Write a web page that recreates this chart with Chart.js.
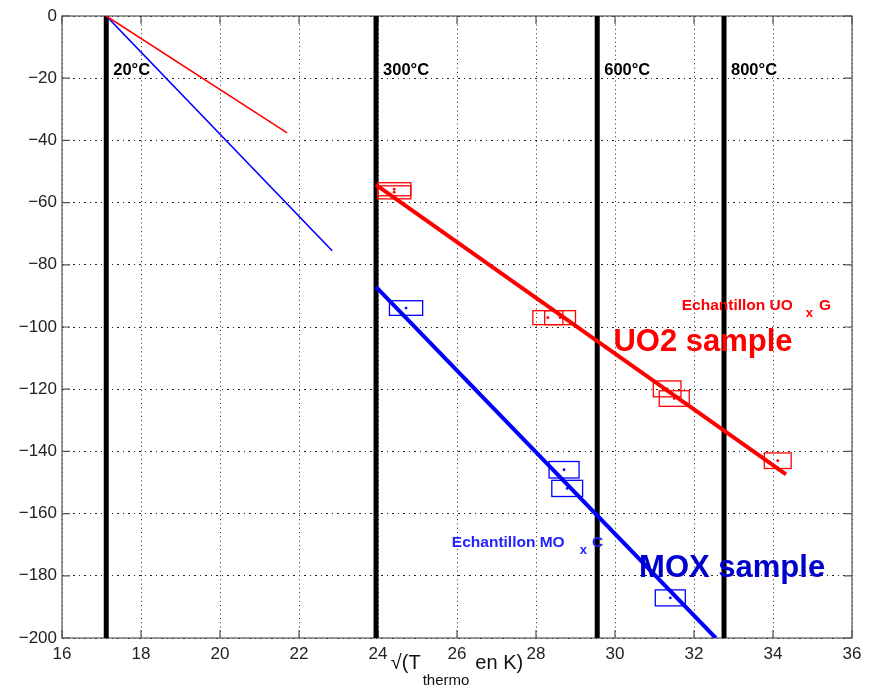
<!DOCTYPE html>
<html>
<head>
<meta charset="utf-8">
<script src="https://cdn.jsdelivr.net/npm/chart.js@4.4.0/dist/chart.umd.min.js"></script>
<style>
  body { margin: 0; background: #fff; }
  #wrap { width: 875px; height: 688px; }
</style>
</head>
<body>
<div id="wrap"><canvas id="arrhenius"></canvas></div>
<script>
// axis
const xMin = 16, xMax = 36, yMin = -200, yMax = 0;
const xTicks = [16, 18, 20, 22, 24, 26, 28, 30, 32, 34, 36];
const yTicks = [0, -20, -40, -60, -80, -100, -120, -140, -160, -180, -200];

// temperature markers, sqrt(T in K)
const tempX = [17.12, 23.95, 29.55, 32.76];
const tempLabels = ['20°C', '300°C', '600°C', '800°C'];

// UOx G measurements : box centres and half sizes
const uoxX = [24.41, 24.41, 28.30, 28.61, 31.32, 31.50, 34.12];
const uoxY = [-55.7, -56.7, -97.0, -97.0, -119.9, -123.0, -143.0];
const uoxErrX = [0.42, 0.42, 0.38, 0.39, 0.35, 0.38, 0.34];
const uoxErrY = [2.1, 2.1, 2.25, 2.25, 2.55, 2.5, 2.5];

// MOx C measurements
const moxX = [24.71, 28.71, 28.79, 31.40];
const moxY = [-93.9, -145.9, -151.9, -187.1];
const moxErrX = [0.42, 0.38, 0.39, 0.38];
const moxErrY = [2.35, 2.65, 2.6, 2.57];

// fitted lines above 300°C
const uoxFitX = [23.95, 34.33];
const uoxFitY = [-54.3, -147.4];
const moxFitX = [23.95, 32.55];
const moxFitY = [-87.1, -200];

// lines from 20°C
const uoxLowX = [17.12, 21.70];
const uoxLowY = [0, -37.6];
const moxLowX = [17.12, 22.84];
const moxLowY = [0, -75.5];

const RED = '#ff0000', BLUE = '#0000ff';
const FONT = '"Liberation Sans", Arial, sans-serif';

const pts = (xs, ys) => xs.map((v, i) => ({x: v, y: ys[i]}));
const line = (xs, ys, color, width) => ({
  data: pts(xs, ys), showLine: true, borderColor: color, borderWidth: width,
  pointRadius: 0, fill: false
});

// free text on the plot (data coordinates, baseline)
const notes = [
  {x: 29.96, y: -107.8, color: RED, parts: [['UO2 sample', 0, 0, 'bold 31px']]},
  {x: 30.61, y: -180.3, color: '#0000cc', parts: [['MOX sample', 0, 0, 'bold 31px']]},
  {x: 31.69, y: -94.4, color: RED, parts: [['Echantillon UO', 0, 0, 'bold 15.5px'], ['x', 13, 7, 'bold 13px'], ['G', 6, 0, 'bold 15.5px']]},
  {x: 25.87, y: -170.8, color: '#2222ff', parts: [['Echantillon MO', 0, 0, 'bold 15.5px'], ['x', 15, 7, 'bold 13px'], ['C', 5, 0, 'bold 15.5px']]}
];

const drawParts = (ctx, x0, y0, parts) => {
  let cx = x0;
  parts.forEach(([t, dx, dy, f]) => {
    ctx.font = f + ' ' + FONT;
    cx += dx;
    ctx.fillText(t, cx, y0 + dy);
    cx += ctx.measureText(t).width;
  });
};

const decorPlugin = {
  id: 'decor',
  beforeDatasetsDraw(chart) {
    const {ctx, chartArea: a, scales: {x, y}} = chart;
    ctx.save();
    ctx.strokeStyle = '#555';
    ctx.lineWidth = 1.2;
    ctx.setLineDash([]);
    ctx.strokeRect(a.left, a.top, a.right - a.left, a.bottom - a.top);
    ctx.beginPath();
    xTicks.forEach(v => {
      const px = x.getPixelForValue(v);
      ctx.moveTo(px, a.bottom); ctx.lineTo(px, a.bottom - 8);
      ctx.moveTo(px, a.top); ctx.lineTo(px, a.top + 8);
    });
    yTicks.forEach(v => {
      const py = y.getPixelForValue(v);
      ctx.moveTo(a.left, py); ctx.lineTo(a.left + 8, py);
      ctx.moveTo(a.right, py); ctx.lineTo(a.right - 8, py);
    });
    ctx.stroke();
    ctx.restore();
  },
  afterDatasetsDraw(chart) {
    const {ctx, chartArea: a, scales: {x, y}} = chart;
    ctx.save();
    // error boxes
    ctx.lineWidth = 1.3;
    const boxes = (xs, ys, ex, ey, color) => {
      ctx.strokeStyle = color;
      xs.forEach((v, i) => {
        const l = x.getPixelForValue(v - ex[i]), r = x.getPixelForValue(v + ex[i]);
        const t = y.getPixelForValue(ys[i] + ey[i]), b = y.getPixelForValue(ys[i] - ey[i]);
        ctx.strokeRect(l, t, r - l, b - t);
      });
    };
    boxes(uoxX, uoxY, uoxErrX, uoxErrY, RED);
    boxes(moxX, moxY, moxErrX, moxErrY, BLUE);

    // temperature labels
    ctx.fillStyle = '#000';
    ctx.font = 'bold 16.5px ' + FONT;
    ctx.textBaseline = 'alphabetic';
    tempX.forEach((v, i) => {
      ctx.fillText(tempLabels[i], x.getPixelForValue(v) + 7, y.getPixelForValue(-19));
    });

    // sample labels
    notes.forEach(n => {
      ctx.fillStyle = n.color;
      drawParts(ctx, x.getPixelForValue(n.x), y.getPixelForValue(n.y), n.parts);
    });

    // x axis title: sqrt(T_thermo en K)
    const title = [['\u221A(T', 0, 0, '20px'], ['thermo', 2, 16, '15px'], ['en K)', 6, 0, '20px']];
    let w = 0;
    title.forEach(([t, dx, dy, f]) => { ctx.font = f + ' ' + FONT; w += dx + ctx.measureText(t).width; });
    ctx.fillStyle = '#111';
    drawParts(ctx, (a.left + a.right) / 2 - w / 2, 669, title);
    ctx.restore();
  }
};

const datasets = [
  {data: pts(uoxX, uoxY), pointRadius: 1.4, pointBackgroundColor: RED, pointBorderWidth: 0, showLine: false},
  {data: pts(moxX, moxY), pointRadius: 1.4, pointBackgroundColor: BLUE, pointBorderWidth: 0, showLine: false},
  line(uoxFitX, uoxFitY, RED, 4),
  line(moxFitX, moxFitY, BLUE, 4),
  line(uoxLowX, uoxLowY, RED, 1.6),
  line(moxLowX, moxLowY, BLUE, 1.6),
  ...tempX.map(v => line([v, v], [yMax, yMin], '#000', 5))
];

new Chart(document.getElementById('arrhenius'), {
  type: 'scatter',
  data: {datasets},
  options: {
    responsive: true,
    maintainAspectRatio: false,
    animation: false,
    layout: {padding: {top: 16, right: 23, left: 0, bottom: 0}},
    plugins: {legend: {display: false}, tooltip: {enabled: false}},
    scales: {
      x: {
        type: 'linear', min: xMin, max: xMax,
        afterBuildTicks: s => { s.ticks = xTicks.map(v => ({value: v})); },
        afterFit: s => { s.height = 50; },
        ticks: {padding: 6, color: '#222', font: {family: FONT, size: 17}},
        grid: {color: '#222', lineWidth: 1, drawTicks: false},
        border: {display: false, dash: [1, 3.3]}
      },
      y: {
        type: 'linear', min: yMin, max: yMax,
        afterBuildTicks: s => { s.ticks = yTicks.map(v => ({value: v})); },
        afterFit: s => { s.width = 62; },
        ticks: {
          padding: 5, color: '#222', font: {family: FONT, size: 17},
          callback: v => String(v).replace('-', '\u2212')
        },
        grid: {color: '#222', lineWidth: 1, drawTicks: false},
        border: {display: false, dash: [2, 4, 1, 4]}
      }
    }
  },
  plugins: [decorPlugin]
});
</script>
</body>
</html>
